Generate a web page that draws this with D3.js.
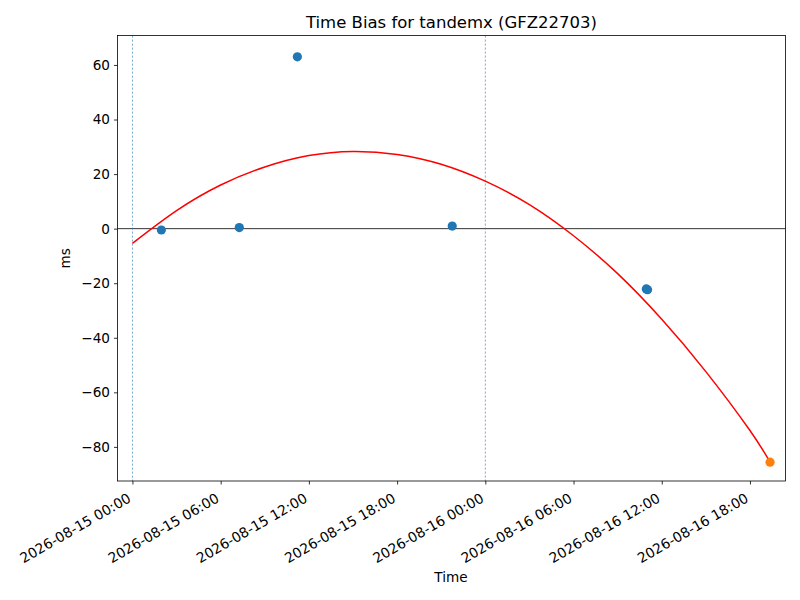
<!DOCTYPE html>
<html>
<head>
<meta charset="utf-8">
<script src="https://cdn.jsdelivr.net/npm/d3@7"></script>
<style>
  body { margin: 0; background: #fff; }
  text { font-family: "DejaVu Sans", sans-serif; }
</style>
</head>
<body>
<div id="chart"></div>
<script>
// measured time bias points (ms)
var pointTimes = ["2026-08-15T01:58Z", "2026-08-15T07:16Z", "2026-08-15T11:13Z",
                  "2026-08-15T21:45Z", "2026-08-16T10:57Z", "2026-08-16T11:02Z"];
var pointValues = [-0.5, 0.4, 63.0, 0.95, -22.1, -22.4];

// latest point (highlighted)
var lastTime = ["2026-08-16T19:22Z"];
var lastValue = [-85.6];

// fitted curve
var fitTimes = ["2026-08-15T00:00Z", "2026-08-15T03:00Z", "2026-08-15T06:00Z", "2026-08-15T09:00Z",
                "2026-08-15T12:00Z", "2026-08-15T15:00Z", "2026-08-15T18:00Z", "2026-08-15T21:00Z",
                "2026-08-16T00:00Z", "2026-08-16T03:00Z", "2026-08-16T06:00Z", "2026-08-16T09:00Z",
                "2026-08-16T12:00Z", "2026-08-16T15:00Z", "2026-08-16T18:00Z", "2026-08-16T19:22Z"];
var fitValues = [-5.4, 6.6, 16.0, 22.6, 26.8, 28.3, 27.2, 23.6,
                 17.4, 8.8, -2.6, -16.5, -33.2, -52.4, -74.0, -85.6];

// vertical marker lines
var markerTimes = ["2026-08-15T00:00Z", "2026-08-16T00:00Z"];

var yTicks = [-80, -60, -40, -20, 0, 20, 40, 60];
var xDomain = ["2026-08-14T22:59Z", "2026-08-16T20:25Z"];
var yDomain = [-92.5, 70.8];

var width = 800, height = 600;
var margin = {top: 35.5, right: 14.5, bottom: 119, left: 117.5},
    chartWidth = width - margin.left - margin.right,
    chartHeight = height - margin.top - margin.bottom;

var parse = function (s) { return new Date(s); };

var svg = d3.select("#chart").append("svg")
  .attr("width", width)
  .attr("height", height);

var chart = svg.append("g")
  .attr("transform", "translate(" + margin.left + "," + margin.top + ")");

var x = d3.scaleUtc()
  .domain(xDomain.map(parse))
  .range([0, chartWidth]);

var y = d3.scaleLinear()
  .domain(yDomain)
  .range([chartHeight, 0]);

// clip for plot area
svg.append("defs").append("clipPath").attr("id", "clip")
  .append("rect").attr("width", chartWidth).attr("height", chartHeight);

var plot = chart.append("g").attr("clip-path", "url(#clip)");

// zero line
plot.append("line")
  .attr("x1", 0).attr("x2", chartWidth)
  .attr("y1", y(0)).attr("y2", y(0))
  .attr("stroke", "#000").attr("stroke-width", 0.8);

// vertical dashed lines
plot.selectAll(".vline").data(markerTimes).enter().append("line")
  .attr("class", "vline")
  .attr("x1", function (d) { return x(parse(d)); })
  .attr("x2", function (d) { return x(parse(d)); })
  .attr("y1", 0).attr("y2", chartHeight)
  .attr("stroke", "#1f77b4").attr("stroke-width", 0.6)
  .attr("stroke-dasharray", "2.2,1.8");

// points
plot.selectAll(".pt").data(pointTimes).enter().append("circle")
  .attr("class", "pt")
  .attr("cx", function (d) { return x(parse(d)); })
  .attr("cy", function (d, i) { return y(pointValues[i]); })
  .attr("r", 4.6)
  .attr("fill", "#1f77b4");

// fit curve
var line = d3.line()
  .x(function (d) { return x(parse(d)); })
  .y(function (d, i) { return y(fitValues[i]); })
  .curve(d3.curveNatural);

plot.append("path")
  .datum(fitTimes)
  .attr("d", line)
  .attr("fill", "none")
  .attr("stroke", "red")
  .attr("stroke-width", 1.5);

plot.selectAll(".last").data(lastTime).enter().append("circle")
  .attr("class", "last")
  .attr("cx", function (d) { return x(parse(d)); })
  .attr("cy", function (d, i) { return y(lastValue[i]); })
  .attr("r", 4.6)
  .attr("fill", "#ff7f0e");

// axes
var xAxis = d3.axisBottom(x)
  .ticks(d3.utcHour.every(6))
  .tickFormat(d3.utcFormat("%Y-%m-%d %H:%M"))
  .tickSizeInner(3.5).tickSizeOuter(0);

var gx = chart.append("g")
  .attr("transform", "translate(0," + chartHeight + ")")
  .call(xAxis);

gx.selectAll("text")
  .style("font-size", "13.9px")
  .style("text-anchor", "end")
  .attr("fill", "#000")
  .attr("x", 0).attr("y", 0).attr("dy", 0)
  .attr("transform", "translate(-1,20) rotate(-30)");

var yAxis = d3.axisLeft(y)
  .tickValues(yTicks)
  .tickSizeInner(3.5).tickSizeOuter(0).tickPadding(4);

var gy = chart.append("g").call(yAxis);
gy.selectAll("text").style("font-size", "13.6px").attr("fill", "#000");

[gx, gy].forEach(function (g) {
  g.select(".domain").remove();
  g.selectAll(".tick line").attr("stroke", "#000").attr("stroke-width", 0.8);
});

// frame
chart.append("rect")
  .attr("width", chartWidth).attr("height", chartHeight)
  .attr("fill", "none").attr("stroke", "#000").attr("stroke-width", 0.8);

// labels
svg.append("text")
  .attr("x", margin.left + chartWidth / 2).attr("y", 28)
  .attr("text-anchor", "middle").style("font-size", "16.5px")
  .text("Time Bias for tandemx (GFZ22703)");

svg.append("text")
  .attr("x", 451).attr("y", 582)
  .attr("text-anchor", "middle").style("font-size", "13.6px")
  .text("Time");

svg.append("text")
  .attr("transform", "translate(70," + (margin.top + chartHeight / 2) + ") rotate(-90)")
  .attr("text-anchor", "middle").style("font-size", "13.6px")
  .text("ms");
</script>
</body>
</html>
